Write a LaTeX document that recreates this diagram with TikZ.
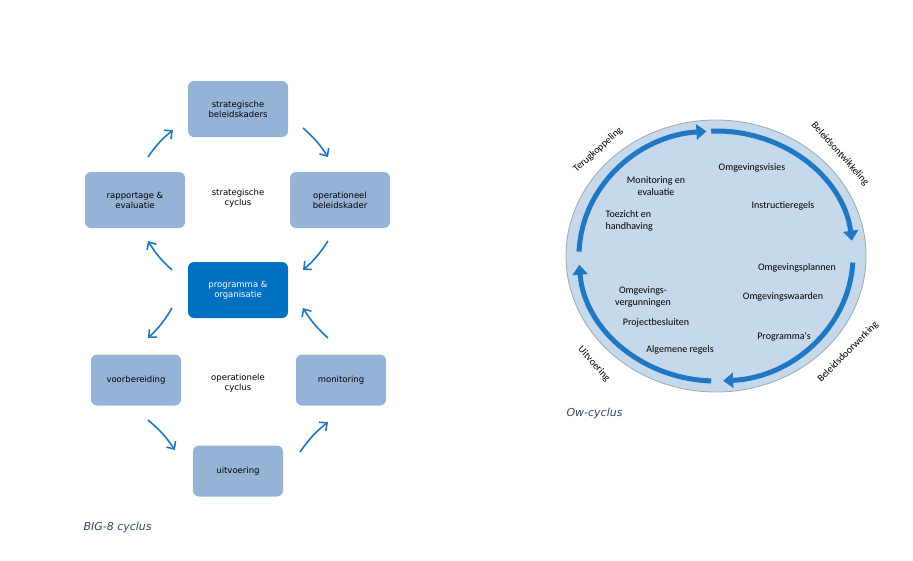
\documentclass[tikz,border=0pt]{standalone}
\usepackage{fontspec}
\setmainfont{DejaVu Sans}
\newfontfamily\carlitofont{Carlito}
\usetikzlibrary{arrows.meta,shapes.geometric}
\definecolor{lbox}{HTML}{95B3D7}
\definecolor{dbox}{HTML}{0070C0}
\definecolor{arr}{HTML}{1F78C1}
\definecolor{circ}{HTML}{C6D9EC}
\definecolor{capc}{HTML}{2E4A6B}
\begin{document}
\begin{tikzpicture}[x=1pt,y=-1pt,
 box/.style={rounded corners=6pt,fill=lbox,minimum width=100pt,minimum height=56pt,align=center,font=\fontsize{8.5}{10}\selectfont,inner sep=1pt},
 sbox/.style={box,minimum width=90pt,minimum height=51pt},
 sa/.style={draw=arr,line width=1.6pt,-{Straight Barb[length=6pt,width=11pt]}},
 ct/.style={font=\fontsize{8.5}{10}\selectfont,align=center},
 ow/.style={font=\carlitofont\fontsize{10}{12}\selectfont,align=center},
 big/.style={draw=arr,line width=5pt,-{Triangle[length=10pt,width=15pt]}},
 captxt/.style={font=\itshape\fontsize{11}{13}\selectfont,text=capc,anchor=west}]
\useasboundingbox (0,0) rectangle (913,560);
\node[box] (sb) at (238,109) {strategische\\beleidskaders};
\node[box] (ob) at (340,200) {operationeel\\beleidskader};
\node[box] (re) at (135,200) {rapportage \&\\evaluatie};
\node[box,fill=dbox,text=white] (po) at (238,290) {programma \&\\organisatie};
\node[sbox] (vb) at (136,380) {voorbereiding};
\node[sbox] (mo) at (341,380) {monitoring};
\node[sbox] (ui) at (238,471) {uitvoering};
\node[ct] (sc) at (238,198) {strategische\\cyclus};
\node[ct] (oc) at (238,383) {operationele\\cyclus};
\coordinate (a1) at (148,157); \coordinate (b1) at (173,130);
\coordinate (a2) at (303,128); \coordinate (b2) at (328,157);
\coordinate (a3) at (328,241); \coordinate (b3) at (303,270);
\coordinate (a4) at (172,270); \coordinate (b4) at (148,241);
\coordinate (a5) at (172,308); \coordinate (b5) at (148,338);
\coordinate (a6) at (328,338); \coordinate (b6) at (303,308);
\coordinate (a7) at (148,420); \coordinate (b7) at (175,450);
\coordinate (a8) at (300,452); \coordinate (b8) at (328,422);
\foreach \i in {1,...,8} \draw[sa] (a\i) to[bend left=8] (b\i);
\node[captxt] (c1) at (80,527) {BIG-8 cyclus};
\node[captxt] (c2) at (563,413) {Ow-cyclus};
\node[draw=gray!70,line width=0.8pt,fill=circ,ellipse,minimum width=300pt,minimum height=272pt,inner sep=0pt] (ci) at (716,256) {};
\draw[big] (716,256) ++(-92:137 and 125) arc[start angle=-92,end angle=-7,x radius=137,y radius=125];
\draw[big] (716,256) ++(3:137 and 125) arc[start angle=3,end angle=87,x radius=137,y radius=125];
\draw[big] (716,256) ++(92:137 and 125) arc[start angle=92,end angle=176,x radius=137,y radius=125];
\draw[big] (716,256) ++(182:137 and 125) arc[start angle=182,end angle=266,x radius=137,y radius=125];
\node[ow] (t1) at (752,168) {Omgevingsvisies};
\node[ow] (t2) at (783,206) {Instructieregels};
\node[ow] (t3) at (797,268) {Omgevingsplannen};
\node[ow] (t4) at (783,297) {Omgevingswaarden};
\node[ow] (t5) at (784,337) {Programma's};
\node[ow] (t6) at (656,186) {Monitoring en\\evaluatie};
\node[ow,align=left,anchor=west] (t7) at (602,221) {Toezicht en\\handhaving};
\node[ow] (t8) at (643,297) {Omgevings-\\vergunningen};
\node[ow] (t9) at (656,323) {Projectbesluiten};
\node[ow] (t10) at (680,350) {Algemene regels};
\node[ow,rotate=42] (l1) at (598,150) {Terugkoppeling};
\node[ow,rotate=-48] (l2) at (840,154) {Beleidsontwikkeling};
\node[ow,rotate=45] (l3) at (848,352) {Beleidsdoorwerking};
\node[ow,rotate=-48] (l4) at (594,364) {Uitvoering};
\end{tikzpicture}
\end{document}
